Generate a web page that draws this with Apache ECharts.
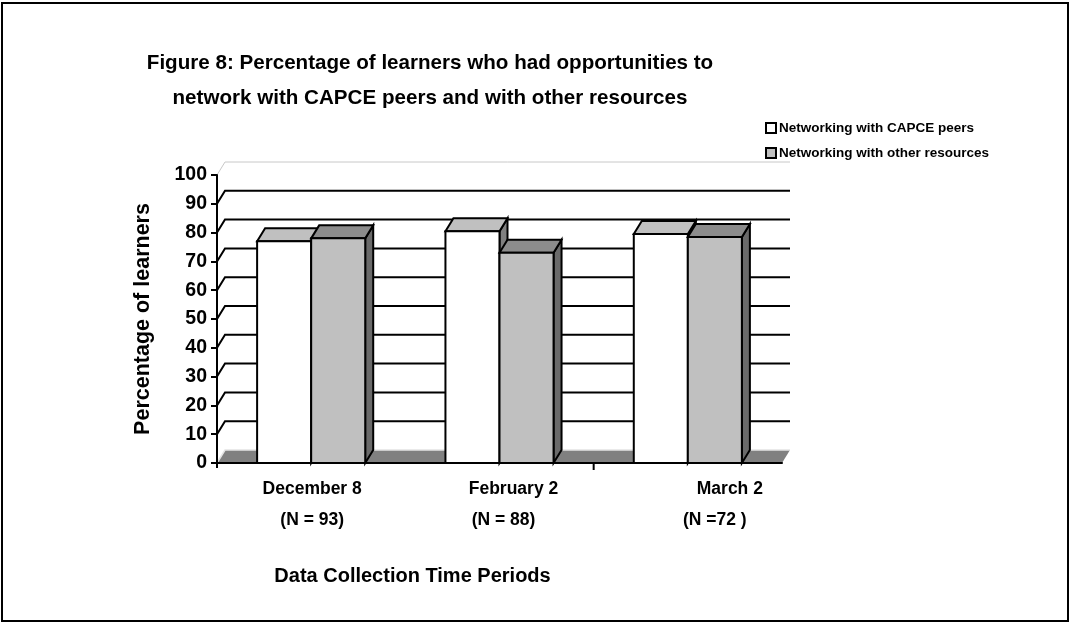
<!DOCTYPE html>
<html>
<head>
<meta charset="utf-8">
<script src="https://cdn.jsdelivr.net/npm/echarts@6/dist/echarts.min.js"></script>
<style>
  html, body { margin: 0; padding: 0; background: #ffffff; }
  #chart { width: 1070px; height: 624px; }
</style>
</head>
<body>
<div id="chart"></div>
<script>
// ---- data ----
const categories = ['December 8', 'February 2', 'March 2'];
const sampleSizes = ['(N = 93)', '(N = 88)', '(N =72 )'];
const seriesNames = ['Networking with CAPCE peers', 'Networking with other resources'];
const peerValues = [77, 80.5, 79.5];
const resourceValues = [78, 73, 78.5];
const yTicks = [0, 10, 20, 30, 40, 50, 60, 70, 80, 90, 100];

// ---- layout / style ----
const FONT = "'Liberation Sans', Arial, Helvetica, sans-serif";
const DX = 8, DY = -13;          // depth offset of the 3-D look
const BAR_FRAC = 0.287;          // bar width as fraction of a category band
const line1Shift = [1, 14, 42];  // horizontal nudges of the category label lines
const line2Shift = [1, 4, 27];

const barColors = [
  { front: '#ffffff', top: '#c0c0c0', side: '#808080' },
  { front: '#c0c0c0', top: '#8c8c8c', side: '#6a6a6a' }
];

function barRenderer(slot, colors) {
  return function (params, api) {
    const i = api.value(0), v = api.value(1);
    const base = api.coord([i, 0]);
    const top = api.coord([i, v]);
    const w = api.size([1, 0])[0] * BAR_FRAC;
    const xl = base[0] + (slot - 1) * w, xr = xl + w;
    const yb = base[1], yt = top[1];
    const st = { stroke: '#000', lineWidth: 2, lineJoin: 'miter' };
    return {
      type: 'group',
      children: [
        { type: 'polygon', shape: { points: [[xr, yb], [xr + DX, yb + DY], [xr + DX, yt + DY], [xr, yt]] },
          style: Object.assign({ fill: colors.side }, st) },
        { type: 'polygon', shape: { points: [[xl, yt], [xl + DX, yt + DY], [xr + DX, yt + DY], [xr, yt]] },
          style: Object.assign({ fill: colors.top }, st) },
        { type: 'rect', shape: { x: xl, y: yt, width: w, height: yb - yt },
          style: Object.assign({ fill: colors.front }, st) }
      ]
    };
  };
}

const rich = {};
categories.forEach((c, i) => {
  rich['a' + i] = { fontFamily: FONT, fontSize: 17.5, fontWeight: 'bold', color: '#000',
                    lineHeight: 31, padding: [0, 0, 0, 2 * line1Shift[i]] };
  rich['b' + i] = { fontFamily: FONT, fontSize: 17.5, fontWeight: 'bold', color: '#000',
                    lineHeight: 31, padding: [0, 0, 0, 2 * line2Shift[i]] };
});

const chart = echarts.init(document.getElementById('chart'), null, { renderer: 'canvas' });

chart.setOption({
  animation: false,
  backgroundColor: '#ffffff',
  title: {
    text: 'Figure 8: Percentage of learners who had opportunities to\nnetwork with CAPCE peers and with other resources',
    left: 430, top: 46, padding: 0, textAlign: 'center',
    textStyle: { fontFamily: FONT, fontSize: 20.6, fontWeight: 'bold', color: '#000', lineHeight: 35 }
  },
  legend: {
    orient: 'vertical', left: 760, top: 116,
    itemWidth: 10, itemHeight: 10, itemGap: 11, icon: 'rect',
    textStyle: { fontFamily: FONT, fontSize: 13.5, fontWeight: 'bold', color: '#000', padding: [0, 0, 0, -2] },
    data: [
      { name: seriesNames[0], itemStyle: { color: '#ffffff', borderColor: '#000', borderWidth: 2 } },
      { name: seriesNames[1], itemStyle: { color: '#c0c0c0', borderColor: '#000', borderWidth: 2 } }
    ]
  },
  graphic: [{
    type: 'rect', shape: { x: 2, y: 3, width: 1066, height: 618 },
    style: { fill: null, stroke: '#000', lineWidth: 2 }, z: 100
  }],
  grid: { left: 217, right: 288, top: 175, bottom: 161 },
  xAxis: {
    type: 'category', data: categories, z: 10,
    name: 'Data Collection Time Periods', nameLocation: 'middle', nameGap: 103,
    nameTextStyle: { fontFamily: FONT, fontSize: 20, fontWeight: 'bold', color: '#000', padding: [0, 174, 0, 0] },
    axisLine: { lineStyle: { color: '#000', width: 2 } },
    axisTick: { show: false },
    axisLabel: {
      interval: 0, margin: 11,
      formatter: (val, idx) => '{a' + idx + '|' + categories[idx] + '}\n{b' + idx + '|' + sampleSizes[idx] + '}',
      rich: rich
    },
    splitLine: { show: false }
  },
  yAxis: {
    type: 'value', min: 0, max: 100, interval: 10, z: 10,
    name: 'Percentage of learners', nameLocation: 'middle', nameGap: 63,
    nameTextStyle: { fontFamily: FONT, fontSize: 21.5, fontWeight: 'bold', color: '#000' },
    axisLine: { show: true, lineStyle: { color: '#000', width: 2 } },
    axisTick: { show: true, length: 6, lineStyle: { color: '#000', width: 2 } },
    axisLabel: { margin: 10, fontFamily: FONT, fontSize: 19.5, fontWeight: 'bold', color: '#000' },
    splitLine: { show: false }
  },
  series: [
    {
      // side wall + back wall gridlines
      type: 'custom', name: 'walls', silent: true, z: 1,
      data: yTicks.filter(v => v > 0).map(v => [0, v]),
      renderItem: function (params, api) {
        const cs = params.coordSys;
        const y = api.coord([0, api.value(1)])[1];
        const x0 = cs.x, x1 = cs.x + cs.width;
        const edge = api.value(1) === 100;
        return {
          type: 'polyline',
          shape: { points: [[x0, y], [x0 + DX, y + DY], [x1 + DX, y + DY]] },
          style: { fill: null, stroke: edge ? '#c8c8c8' : '#000', lineWidth: edge ? 1 : 2 }
        };
      }
    },
    {
      // floor, plus the short ticks hanging below the front edge
      type: 'custom', name: 'floor', silent: true, z: 2,
      data: [[0, 0]],
      renderItem: function (params, api) {
        const cs = params.coordSys;
        const y0 = api.coord([0, 0])[1];
        const x0 = cs.x, x1 = cs.x + cs.width;
        const band = api.size([1, 0])[0];
        const xb = api.coord([2, 0])[0] - band / 2;   // boundary between 2nd and 3rd category
        return {
          type: 'group',
          children: [
            { type: 'polygon', shape: { points: [[x0, y0], [x1, y0], [x1 + DX, y0 + DY], [x0 + DX, y0 + DY]] },
              style: { fill: '#808080' } },
            { type: 'polyline', shape: { points: [[x0, y0], [x0 + DX, y0 + DY], [x1 + DX, y0 + DY]] },
              style: { fill: null, stroke: '#e4e4e4', lineWidth: 1.5 } },
            { type: 'line', shape: { x1: xb, y1: y0, x2: xb, y2: y0 + 7 },
              style: { stroke: '#000', lineWidth: 2 } },
            { type: 'line', shape: { x1: x0, y1: y0, x2: x0, y2: y0 + 5 },
              style: { stroke: '#000', lineWidth: 2 } }
          ]
        };
      }
    },
    {
      type: 'custom', name: seriesNames[0], z: 3,
      itemStyle: { color: '#ffffff', borderColor: '#000' },
      encode: { x: 0, y: 1 },
      data: peerValues.map((v, i) => [i, v]),
      renderItem: barRenderer(0, barColors[0])
    },
    {
      type: 'custom', name: seriesNames[1], z: 4,
      itemStyle: { color: '#c0c0c0', borderColor: '#000' },
      encode: { x: 0, y: 1 },
      data: resourceValues.map((v, i) => [i, v]),
      renderItem: barRenderer(1, barColors[1])
    }
  ]
});
</script>
</body>
</html>
